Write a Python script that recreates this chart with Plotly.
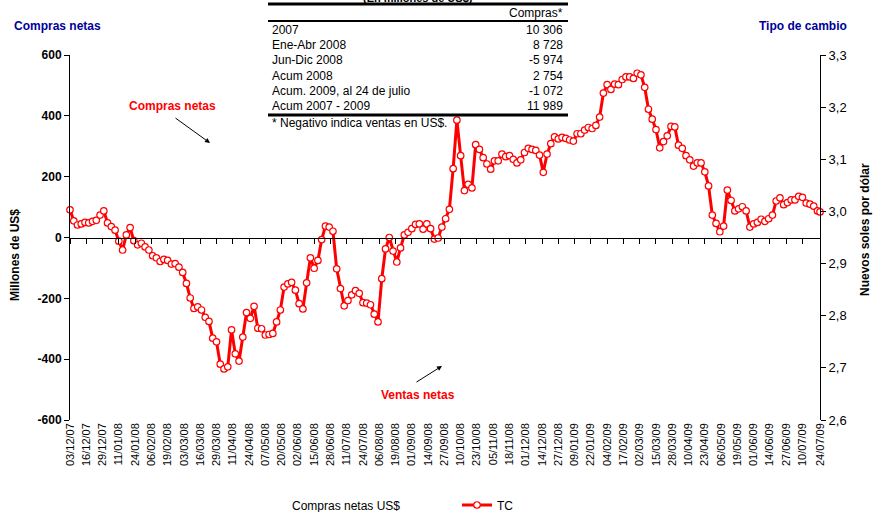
import plotly.graph_objects as go
import pandas as pd

# ---------------- data ----------------
tc_dates = list(pd.date_range("2007-12-03", periods=200, freq="3D")) + [pd.Timestamp("2009-07-24")]
tc_values = [
    3.003, 2.982, 2.974, 2.976, 2.979, 2.978, 2.981, 2.983, 2.993, 3.001,
    2.978, 2.971, 2.964, 2.943, 2.926, 2.955, 2.969, 2.944, 2.936, 2.939,
    2.932, 2.926, 2.915, 2.911, 2.904, 2.908, 2.906, 2.899, 2.900, 2.893,
    2.883, 2.862, 2.834, 2.814, 2.817, 2.811, 2.797, 2.789, 2.757, 2.750,
    2.707, 2.698, 2.702, 2.773, 2.727, 2.713, 2.759, 2.806, 2.795, 2.818,
    2.776, 2.775, 2.763, 2.764, 2.766, 2.788, 2.811, 2.855, 2.861, 2.864,
    2.849, 2.823, 2.813, 2.863, 2.911, 2.891, 2.906, 2.946, 2.972, 2.970,
    2.962, 2.890, 2.852, 2.819, 2.829, 2.840, 2.848, 2.843, 2.825, 2.824,
    2.821, 2.803, 2.788, 2.871, 2.928, 2.950, 2.924, 2.903, 2.930, 2.955,
    2.960, 2.967, 2.975, 2.976, 2.966, 2.976, 2.967, 2.947, 2.949, 2.970,
    2.986, 3.004, 3.082, 3.175, 3.107, 3.040, 3.052, 3.045, 3.128, 3.119,
    3.103, 3.091, 3.081, 3.097, 3.097, 3.110, 3.105, 3.107, 3.100, 3.093,
    3.099, 3.113, 3.121, 3.119, 3.117, 3.108, 3.075, 3.110, 3.130, 3.143,
    3.139, 3.142, 3.140, 3.137, 3.135, 3.149, 3.149, 3.156, 3.161, 3.159,
    3.165, 3.181, 3.227, 3.243, 3.234, 3.244, 3.243, 3.253, 3.258, 3.258,
    3.255, 3.265, 3.262, 3.238, 3.196, 3.177, 3.157, 3.122, 3.134, 3.145,
    3.163, 3.162, 3.127, 3.121, 3.107, 3.099, 3.087, 3.093, 3.093, 3.076,
    3.049, 2.993, 2.977, 2.961, 2.972, 3.041, 3.021, 3.001, 3.005, 3.009,
    3.001, 2.970, 2.976, 2.979, 2.985, 2.981, 2.986, 2.993, 3.020, 3.026,
    3.013, 3.017, 3.022, 3.022, 3.029, 3.027, 3.016, 3.014, 3.010, 3.001,
    2.999,
]

tick_dates = list(pd.date_range("2007-12-03", periods=46, freq="13D")) + [pd.Timestamp("2009-07-24")]
tick_labels = [d.strftime("%d/%m/%y") for d in tick_dates]

left_ticks = [-600, -400, -200, 0, 200, 400, 600]
right_ticks = [2.6, 2.7, 2.8, 2.9, 3.0, 3.1, 3.2, 3.3]
right_tick_labels = ["2,6", "2,7", "2,8", "2,9", "3,0", "3,1", "3,2", "3,3"]

table_title = "(En millones de US$)"
table_header = "Compras*"
table_rows = ["2007", "Ene-Abr 2008", "Jun-Dic 2008", "Acum 2008",
              "Acum. 2009, al 24 de julio", "Acum 2007 - 2009"]
table_vals = ["10 306", "8 728", "-5 974", "2 754", "-1 072", "11 989"]
table_note = "* Negativo indica ventas en US$."

# ---------------- layout helpers ----------------
W, H = 873, 512
PL, PR, PT, PB = 70, 820, 55, 420
FONT = "Arial, Liberation Sans, sans-serif"
RED = "#FF0000"
NAVY = "#000099"


def px(x):
    return (x - PL) / (PR - PL)


def py(y):
    return (PB - y) / (PB - PT)


x_range = [pd.Timestamp("2007-12-03"), pd.Timestamp("2009-07-24")]

fig = go.Figure()

# Compras netas: no visible bars in the reference, legend entry only
fig.add_trace(go.Scatter(x=[None], y=[None], name="Compras netas US$", mode="markers",
                         marker=dict(color="rgba(255,255,255,0)", size=1),
                         xaxis="x", yaxis="y", showlegend=True))

fig.add_trace(go.Scatter(
    x=tc_dates, y=tc_values, name="TC", mode="lines+markers",
    line=dict(color=RED, width=3),
    marker=dict(symbol="circle", size=6.5, color="white", line=dict(color=RED, width=1.2)),
    xaxis="x2", yaxis="y2", cliponaxis=False,
))

annotations = []
shapes = []

# headers
annotations.append(dict(text="<b>Compras netas</b>", x=px(12), y=py(26), xref="paper", yref="paper",
                        xanchor="left", yanchor="middle", showarrow=False,
                        font=dict(family=FONT, size=12, color=NAVY)))
annotations.append(dict(text="<b>Tipo de cambio</b>", x=px(849), y=py(26), xref="paper", yref="paper",
                        xanchor="right", yanchor="middle", showarrow=False,
                        font=dict(family=FONT, size=12, color=NAVY)))
# axis titles
annotations.append(dict(text="<b>Millones de US$</b>", x=px(15), y=py(255), xref="paper", yref="paper",
                        xanchor="center", yanchor="middle", textangle=-90, showarrow=False,
                        font=dict(family=FONT, size=12, color="black")))
annotations.append(dict(text="<b>Nuevos soles por dólar</b>", x=px(865), y=py(230), xref="paper", yref="paper",
                        xanchor="center", yanchor="middle", textangle=-90, showarrow=False,
                        font=dict(family=FONT, size=12, color="black")))

# in-chart labels
annotations.append(dict(text="<b>Compras netas</b>", x=px(172), y=py(106), xref="paper", yref="paper",
                        xanchor="center", yanchor="middle", showarrow=False,
                        font=dict(family=FONT, size=12, color=RED)))
annotations.append(dict(text="<b>Ventas netas</b>", x=px(418), y=py(395), xref="paper", yref="paper",
                        xanchor="center", yanchor="middle", showarrow=False,
                        font=dict(family=FONT, size=12, color=RED)))
annotations.append(dict(text="", x=px(210), y=py(143), xref="paper", yref="paper",
                        ax=-36, ay=-26, showarrow=True, arrowhead=2, arrowsize=1, arrowwidth=1,
                        arrowcolor="black"))
annotations.append(dict(text="", x=px(442), y=py(366), xref="paper", yref="paper",
                        ax=-27, ay=17, showarrow=True, arrowhead=2, arrowsize=1, arrowwidth=1,
                        arrowcolor="black"))

# table
TL, TR = 268, 568
annotations.append(dict(text="<b>" + table_title + "</b>", x=px(418), y=py(-2), xref="paper", yref="paper",
                        xanchor="center", yanchor="middle", showarrow=False,
                        font=dict(family=FONT, size=11, color="black")))
annotations.append(dict(text=table_header, x=px(TR - 3), y=py(13), xref="paper", yref="paper",
                        xanchor="right", yanchor="middle", showarrow=False,
                        font=dict(family=FONT, size=12, color="black")))
row_y = [30, 45, 60, 76, 91, 106]
for lab, val, yy in zip(table_rows, table_vals, row_y):
    annotations.append(dict(text=lab, x=px(TL + 2), y=py(yy), xref="paper", yref="paper",
                            xanchor="left", yanchor="middle", showarrow=False,
                            font=dict(family=FONT, size=12, color="black")))
    annotations.append(dict(text=val, x=px(TR - 3), y=py(yy), xref="paper", yref="paper",
                            xanchor="right", yanchor="middle", showarrow=False,
                            font=dict(family=FONT, size=12, color="black")))
annotations.append(dict(text=table_note, x=px(TL + 2), y=py(123), xref="paper", yref="paper",
                        xanchor="left", yanchor="middle", showarrow=False,
                        font=dict(family=FONT, size=12, color="black")))
for yy, w in [(4, 3), (21, 2), (115, 3)]:
    shapes.append(dict(type="line", xref="paper", yref="paper", x0=px(TL), x1=px(TR),
                       y0=py(yy), y1=py(yy), line=dict(color="black", width=w)))

fig.update_layout(
    template="none",
    width=W, height=H,
    margin=dict(l=PL, r=W - PR, t=PT, b=H - PB, autoexpand=False),
    paper_bgcolor="white", plot_bgcolor="white",
    font=dict(family=FONT, size=11, color="black"),
    showlegend=True,
    legend=dict(orientation="h", x=px(252), y=py(505), xanchor="left", yanchor="middle",
                font=dict(family=FONT, size=12, color="black"),
                entrywidth=160, entrywidthmode="pixels", bgcolor="rgba(0,0,0,0)",
                borderwidth=0),
    xaxis=dict(type="date", range=x_range, tickmode="array", tickvals=tick_dates, ticktext=tick_labels,
               tickangle=-90, showline=False, ticks="", showgrid=False, zeroline=False,
               automargin=False, tickfont=dict(family=FONT, size=11, color="black")),
    xaxis2=dict(type="date", range=x_range, overlaying="x", anchor="free", position=0.5,
                tickmode="array", tickvals=tick_dates, showticklabels=False,
                showline=True, linecolor="black", linewidth=1, ticks="outside", ticklen=5,
                tickcolor="black", showgrid=False, zeroline=False),
    yaxis=dict(range=[-600, 600], tickmode="array", tickvals=left_ticks,
               ticktext=["<b>%d</b>" % v for v in left_ticks],
               showline=True, linecolor="black", linewidth=1, ticks="outside", ticklen=5,
               tickcolor="black", showgrid=False, zeroline=False, automargin=False,
               tickfont=dict(family=FONT, size=12, color="black")),
    yaxis2=dict(range=[2.6, 3.3], overlaying="y", side="right", anchor="x",
                tickmode="array", tickvals=right_ticks, ticktext=right_tick_labels,
                showline=True, linecolor="black", linewidth=1, ticks="outside", ticklen=5,
                tickcolor="black", showgrid=False, zeroline=False, automargin=False,
                tickfont=dict(family=FONT, size=13, color="black")),
    yaxis3=dict(range=[2.6, 3.3], overlaying="y", side="right", anchor="x",
                tickmode="array", tickvals=right_ticks, showticklabels=False,
                showline=False, ticks="inside", ticklen=5, tickcolor="black",
                showgrid=False, zeroline=False, automargin=False),
    annotations=annotations,
    shapes=shapes,
)

fig.write_html("out.html", config={"displayModeBar": False},
               post_script="document.body.style.margin='0px';")
